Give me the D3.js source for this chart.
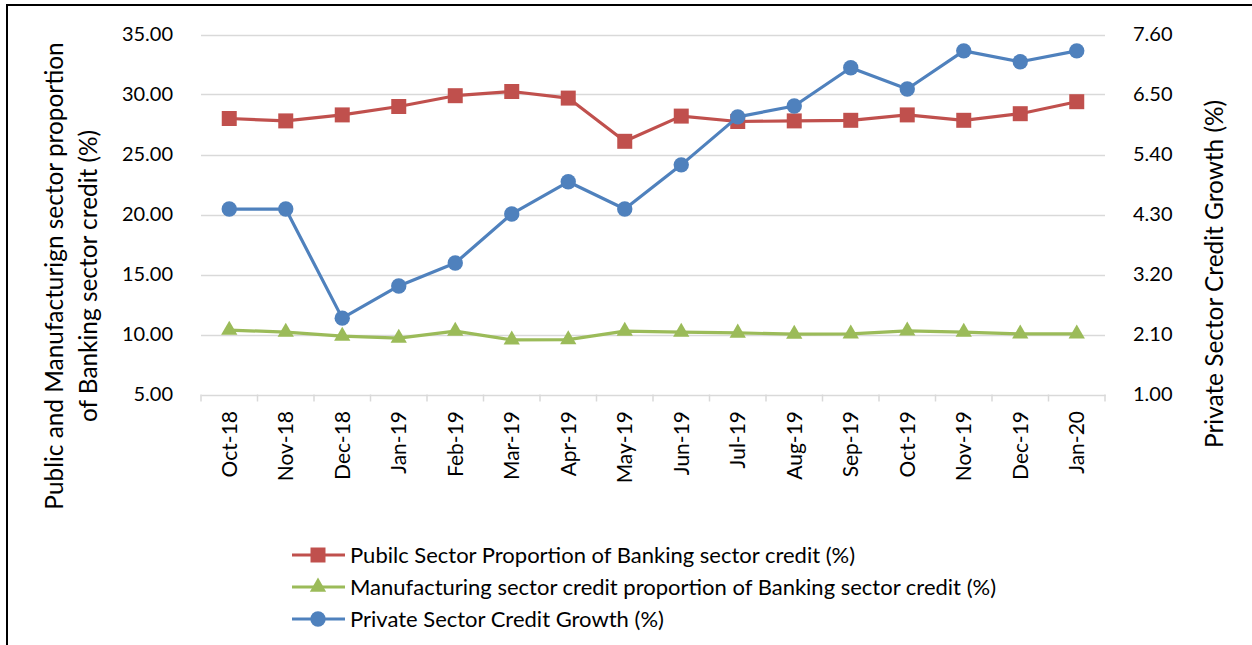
<!DOCTYPE html>
<html><head><meta charset="utf-8">
<script src="https://cdn.jsdelivr.net/npm/d3@7"></script>
<style>
body{margin:0;background:#fff;}
svg text{font-family:Lato,"Liberation Sans",sans-serif;fill:#000;}
</style></head>
<body><svg id="c" width="1252" height="645"></svg>
<script>
const categories=["Oct-18","Nov-18","Dec-18","Jan-19","Feb-19","Mar-19","Apr-19","May-19","Jun-19","Jul-19","Aug-19","Sep-19","Oct-19","Nov-19","Dec-19","Jan-20"];
const publicSector=[28.0,27.8,28.3,29.0,29.9,30.25,29.7,26.1,28.2,27.75,27.8,27.85,28.3,27.85,28.4,29.4];
const manufacturing=[10.37,10.2,9.87,9.7,10.28,9.55,9.57,10.28,10.2,10.13,10.03,10.05,10.3,10.2,10.05,10.05];
const privateGrowth=[4.40,4.40,2.40,2.99,3.41,4.31,4.90,4.40,5.21,6.09,6.29,6.99,6.60,7.30,7.10,7.30];
const leftTicks=[5,10,15,20,25,30,35];
const rightTicks=[1.0,2.1,3.2,4.3,5.4,6.5,7.6];
const seriesNames=["Pubilc Sector Proportion of Banking sector credit (%)","Manufacturing sector credit proportion of Banking sector credit (%)","Private Sector Credit Growth (%)"];
const leftTitle=["Public and Manufacturign sector proportion","of Banking sector credit (%)"];
const rightTitle="Private Sector Credit Growth (%)";

const svg=d3.select("#c");
const L=201,R=1105,T=34.5,B=394.5;
const FS=20, FX=21, FT=24.4, FL=22;
// border
svg.append("rect").attr("x",7).attr("y",5).attr("width",1300).attr("height",700).attr("fill","none").attr("stroke","#000").attr("stroke-width",2);

const x=d3.scaleBand().domain(categories).range([L,R]);
const yL=d3.scaleLinear().domain([5,35]).range([B,T]);
const yR=d3.scaleLinear().domain([1,7.6]).range([B,T]);

// gridlines
svg.append("g").selectAll("line").data(leftTicks.slice(1)).join("line")
 .attr("x1",L).attr("x2",R).attr("y1",d=>Math.round(yL(d))+0.5).attr("y2",d=>Math.round(yL(d))+0.5)
 .attr("stroke","#d9d9d9").attr("stroke-width",1.5);

// left axis
const gl=svg.append("g").attr("transform",`translate(${L},0)`)
 .call(d3.axisLeft(yL).tickValues(leftTicks).tickFormat(d3.format(".2f")).tickSize(0).tickPadding(28));
gl.select(".domain").remove();
gl.selectAll("text").attr("font-size",FS).style("font-family","Lato");
// right axis
const gr=svg.append("g").attr("transform",`translate(${R},0)`)
 .call(d3.axisRight(yR).tickValues(rightTicks).tickFormat(d3.format(".2f")).tickSize(0).tickPadding(28));
gr.select(".domain").remove();
gr.selectAll("text").attr("font-size",FS).style("font-family","Lato");

// bottom axis
const gb=svg.append("g").attr("transform",`translate(0,${B+0.5})`)
 .call(d3.axisBottom(x).tickSize(0).tickPadding(0));
gb.select(".domain").attr("stroke","#d9d9d9").attr("stroke-width",1.5);
gb.selectAll("text").attr("font-size",FX).style("font-family","Lato")
 .attr("transform","rotate(-90)").attr("text-anchor","end").attr("x",-16).attr("y",0).attr("dy","0.35em");
// boundary ticks
const bounds=categories.map(c=>x(c)).concat([R]);
svg.append("g").selectAll("line").data(bounds).join("line")
 .attr("x1",d=>d).attr("x2",d=>d).attr("y1",B).attr("y2",B+7).attr("stroke","#d9d9d9").attr("stroke-width",1.5);

const cx=c=>x(c)+x.bandwidth()/2;
const colors=["#C0504D","#9BBB59","#4F81BD"];
const datas=[publicSector.map((v,i)=>[cx(categories[i]),yL(v)]),
 manufacturing.map((v,i)=>[cx(categories[i]),yL(v)]),
 privateGrowth.map((v,i)=>[cx(categories[i]),yR(v)])];
const sym=[d3.symbolSquare,d3.symbolTriangle,d3.symbolCircle];
const sizes=[225,115,185];
[1,0,2].forEach(k=>{
 svg.append("path").attr("d",d3.line()(datas[k])).attr("fill","none").attr("stroke",colors[k]).attr("stroke-width",3.2).attr("stroke-linejoin","round");
 svg.append("g").selectAll("path").data(datas[k]).join("path")
  .attr("transform",d=>`translate(${d[0]},${d[1]})`)
  .attr("d",d3.symbol().type(sym[k]).size(sizes[k])).attr("fill",colors[k]);
});

// titles
const lt=svg.append("text").attr("transform","translate(63,276) rotate(-90)").attr("text-anchor","middle").attr("font-size",FT);
lt.append("tspan").attr("x",0).attr("dy",0).text(leftTitle[0]);
lt.append("tspan").attr("x",0).attr("dy",34).text(leftTitle[1]);
svg.append("text").attr("transform","translate(1223,274) rotate(-90)").attr("text-anchor","middle").attr("font-size",FT).text(rightTitle);

// legend
const lg=svg.append("g");
seriesNames.forEach((n,i)=>{
 const yy=555+i*32;
 lg.append("line").attr("x1",292).attr("x2",345).attr("y1",yy).attr("y2",yy).attr("stroke",colors[i]).attr("stroke-width",3.2);
 lg.append("path").attr("transform",`translate(318,${yy})`).attr("d",d3.symbol().type(sym[i]).size(sizes[i])).attr("fill",colors[i]);
 lg.append("text").attr("x",350).attr("y",yy).attr("dy","0.35em").attr("font-size",FL).text(n);
});
</script></body></html>
